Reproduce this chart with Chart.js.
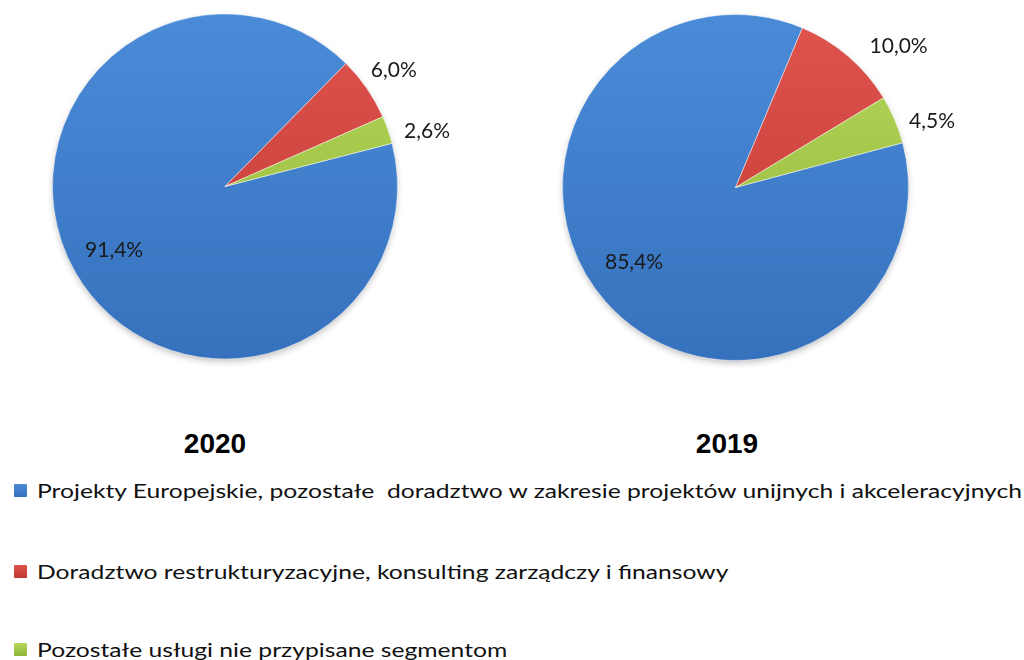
<!DOCTYPE html>
<html>
<head>
<meta charset="utf-8">
<script src="https://cdn.jsdelivr.net/npm/chart.js@4.4.1/dist/chart.umd.min.js"></script>
<style>
  html, body { margin: 0; padding: 0; background: #ffffff; }
  body { width: 1024px; height: 660px; position: relative; overflow: hidden; font-family: Lato, "Open Sans", sans-serif; }
  .pie { position: absolute; top: 0; width: 512px; height: 380px; }
  .title { position: absolute; font-family: "Liberation Sans", Arial, sans-serif; font-weight: bold; font-size: 28px; color: #000; transform: translate(-50%, -50%); line-height: 1; white-space: nowrap; }
  .leg { position: absolute; left: 0; height: 20px; }
  .sq { position: absolute; left: 14px; width: 13px; height: 13px; border-radius: 1px; }
  .lt { position: absolute; left: 37px; top: 0; font-size: 18.5px; line-height: 20px; color: #111; white-space: pre; transform-origin: 0 50%; }
</style>
</head>
<body>
<div class="pie" style="left:0"><canvas id="c2020" width="512" height="380"></canvas></div>
<div class="pie" style="left:512px"><canvas id="c2019" width="512" height="380"></canvas></div>
<div id="titles"></div>
<div id="legend"></div>
<script>
// ---- data ----
const categories = [
  "Projekty Europejskie, pozostałe  doradztwo w zakresie projektów unijnych i akceleracyjnych",
  "Doradztwo restrukturyzacyjne, konsulting zarządczy i finansowy",
  "Pozostałe usługi nie przypisane segmentom"
];
const years = ["2020", "2019"];
const values2020 = [91.4, 6.0, 2.6];
const values2019 = [85.4, 10.0, 4.5];

// ---- styles ----
const colorsTop = ["#4a8bd8", "#e0544e", "#b6d65c"];
const colorsBottom = ["#3671bd", "#bd3631", "#8fb636"];
const legendSwatch = ["#3f7fcc", "#cf433d", "#9fc748"];

function fmt(v) { return v.toFixed(1).replace(".", ",") + "%"; }

const labelPlugin = {
  id: "pctLabels",
  beforeDatasetsDraw(chart) {
    const meta = chart.getDatasetMeta(0);
    if (!meta.data.length) return;
    const a = meta.data[0];
    const ctx = chart.ctx;
    ctx.save();
    ctx.beginPath();
    ctx.arc(a.x, a.y, a.outerRadius - 1, 0, Math.PI * 2);
    ctx.shadowColor = "rgba(0,0,0,0.28)";
    ctx.shadowBlur = 7;
    ctx.shadowOffsetY = 3;
    ctx.fillStyle = "#ffffff";
    ctx.fill();
    ctx.restore();
  },
  afterDatasetsDraw(chart, args, opts) {
    const meta = chart.getDatasetMeta(0);
    const ds = chart.data.datasets[0];
    const ctx = chart.ctx;
    ctx.save();
    ctx.font = "21px Lato, 'Open Sans', sans-serif";
    ctx.fillStyle = "#1a1a1a";
    ctx.textAlign = "center";
    ctx.textBaseline = "middle";
    meta.data.forEach((arc, i) => {
      const mid = (arc.startAngle + arc.endAngle) / 2 + (opts.delta[i] * Math.PI / 180);
      const r = arc.outerRadius * opts.factor[i];
      ctx.fillText(fmt(ds.data[i]), arc.x + Math.cos(mid) * r, arc.y + Math.sin(mid) * r);
    });
    ctx.restore();
  }
};

function makeGrad(ctx, i) {
  const chart = ctx.chart;
  const area = chart.chartArea;
  if (!area) return colorsTop[i];
  const g = chart.ctx.createLinearGradient(0, area.top, 0, area.bottom);
  g.addColorStop(0, colorsTop[i]);
  g.addColorStop(1, colorsBottom[i]);
  return g;
}

function makePie(id, values, rotation, padding, labelOpts) {
  return new Chart(document.getElementById(id), {
    type: "pie",
    data: {
      labels: categories,
      datasets: [{
        data: values,
        backgroundColor: (c) => makeGrad(c, c.dataIndex),
        borderColor: "rgba(255,255,255,0.45)",
        borderWidth: 1
      }]
    },
    options: {
      responsive: false,
      animation: false,
      rotation: rotation,
      layout: { padding: padding },
      plugins: {
        legend: { display: false },
        tooltip: { enabled: false },
        pctLabels: labelOpts
      }
    },
    plugins: [labelPlugin]
  });
}

makePie("c2020", values2020, 75.5, { left: 52, right: 114, top: 13.5, bottom: 20.5 },
  { factor: [0.742, 1.19, 1.215], delta: [0, 0, 3.8] });
makePie("c2019", values2019, 75, { left: 50, right: 115, top: 14, bottom: 19 },
  { factor: [0.729, 1.246, 1.198], delta: [4.7, 8.4, 4.6] });

// titles
const titlePos = [[215, 444], [727, 444]];
const titles = document.getElementById("titles");
years.forEach((y, i) => {
  const d = document.createElement("div");
  d.className = "title";
  d.textContent = y;
  d.style.left = titlePos[i][0] + "px";
  d.style.top = titlePos[i][1] + "px";
  titles.appendChild(d);
});

// legend
const legendY = [481, 562, 640];
const legend = document.getElementById("legend");
const spans = [];
categories.forEach((c, i) => {
  const row = document.createElement("div");
  row.className = "leg";
  row.style.top = legendY[i] + "px";
  const sq = document.createElement("div");
  sq.className = "sq";
  sq.style.top = "3px";
  sq.style.background = "linear-gradient(180deg," + colorsTop[i] + "," + colorsBottom[i] + ")";
  const t = document.createElement("span");
  t.className = "lt";
  t.textContent = c;
  row.appendChild(sq);
  row.appendChild(t);
  legend.appendChild(row);
  spans.push(t);
});
const w0 = spans[0].getBoundingClientRect().width;
const sx = 985 / w0;
spans.forEach(s => { s.style.transform = "scaleX(" + sx + ")"; });
</script>
</body>
</html>
